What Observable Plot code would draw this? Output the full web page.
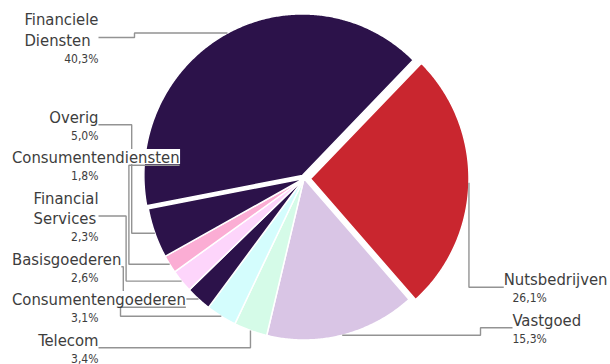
<!DOCTYPE html>
<html><head><meta charset="utf-8">
<script src="https://cdn.jsdelivr.net/npm/d3@7"></script>
<script src="https://cdn.jsdelivr.net/npm/@observablehq/plot@0.6"></script>
<style>html,body{margin:0;padding:0;background:#fff;} #chart{width:610px;height:364px;}</style>
</head><body><div id="chart"></div>
<script>
// ---- data ----
const categories = ["Financiele\nDiensten", "Nutsbedrijven", "Vastgoed", "Telecom", "Consumentengoederen", "Basisgoederen", "Financial\nServices", "Consumentendiensten", "Overig"];
const shares = [40.3, 26.1, 15.3, 3.4, 3.1, 2.6, 2.3, 1.8, 5.0];
const colors = ["#2c124a", "#c9262f", "#d9c5e5", "#d5fbe8", "#d4fdfd", "#2c124a", "#fdd5fb", "#fbadd4", "#2c124a"];

// ---- layout ----
const W = 610, H = 364;
const cx = 303.5, cy = 178, rx = 158.5, ry = 161.5, startDeg = -100.8;
const explode = {"Financiele\nDiensten": 3.5, "Nutsbedrijven": 6.5};
const font = '"DejaVu Sans Condensed", "DejaVu Sans", sans-serif';
const nameSize = 16.5, pctSize = 12, capAsc = 12.5, lineStep = 20.5, pctStep = 17;
const leftEdge = 98, leftClamp = 11.5, rightEdge = 512, rightClamp = 607;
const gap = 11, topMargin = 12;
const stackBottom = {left: 362, right: 342};
const pinTop = {left: true, right: false};
const textColor = "#3d3d3d", leaderColor = "#939393";

const rad = d => d * Math.PI / 180;
const data = categories.map((name, i) => ({name, share: shares[i]}));
const arcs = d3.pie().sort(null).value(d => d.share)
  .startAngle(rad(startDeg)).endAngle(rad(startDeg + 360))(data);

// slices
const slicePts = [];
arcs.forEach(a => {
  const name = a.data.name, mid = (a.startAngle + a.endAngle) / 2;
  const e = explode[name] || 0;
  const ox = e * Math.sin(mid), oy = -e * Math.cos(mid);
  slicePts.push({name, x: cx + ox, y: cy + oy});
  const n = Math.max(2, Math.ceil((a.endAngle - a.startAngle) / rad(0.5)));
  for (let i = 0; i <= n; i++) {
    const t = a.startAngle + (a.endAngle - a.startAngle) * i / n;
    slicePts.push({name, x: cx + ox + rx * Math.sin(t), y: cy + oy - ry * Math.cos(t)});
  }
});

// labels
const ctx = document.createElement("canvas").getContext("2d");
ctx.font = `${nameSize}px ${font}`;
const labels = arcs.map(a => {
  const name = a.data.name, mid = (a.startAngle + a.endAngle) / 2;
  const e = explode[name] || 0;
  const m = ((mid % (2 * Math.PI)) + 2 * Math.PI) % (2 * Math.PI);
  const lines = name.split("\n");
  const widths = lines.map(l => ctx.measureText(l).width);
  const w = Math.max(...widths);
  return {
    name, lines, widths, w, m,
    side: m > Math.PI ? "left" : "right",
    tx: cx + (e + 0) * Math.sin(mid) + rx * Math.sin(mid),
    ty: cy - e * Math.cos(mid) - ry * Math.cos(mid),
    height: capAsc + lineStep * (lines.length - 1) + pctStep,
    pct: a.data.share.toFixed(1).replace(".", ",") + "%"
  };
});

const leaderPts = [], boxes = [], nameTexts = [], pctLeft = [], pctRight = [];
for (const side of ["left", "right"]) {
  const list = labels.filter(L => L.side === side)
    .sort((a, b) => side === "left" ? a.m - b.m : b.m - a.m);
  let bottom = stackBottom[side], k = 0;
  list.forEach((L, i) => {
    let top = bottom - L.height;
    if (pinTop[side] && i === list.length - 1 && i > 0) top = Math.min(top, Math.max(topMargin, L.ty - L.height / 2));
    bottom = top - gap;
    const nameLeft = side === "left" ? Math.max(leftClamp, leftEdge - L.w) : Math.min(rightEdge, rightClamp - L.w);
    const startX = side === "left" ? Math.max(leftEdge, nameLeft + L.w) : Math.min(rightEdge, nameLeft);
    const ly = top + L.height / 2;
    let pts;
    if (ly > L.ty + 10) pts = [[startX, ly], [L.tx, ly], [L.tx, L.ty]];
    else {
      const ex = side === "left" ? 120 + 2.8 * (k++) : rightEdge - 32;
      pts = [[startX, ly], [ex, ly], [ex, L.ty], [L.tx, L.ty]];
    }
    pts.forEach(([x, y]) => leaderPts.push({name: L.name, x, y}));
    L.lines.forEach((line, j) => {
      const base = top + capAsc + lineStep * j;
      nameTexts.push({x: nameLeft, y: base, text: line});
      boxes.push({x1: nameLeft - 1, x2: nameLeft + L.widths[j] + 1, y1: base - capAsc - 1, y2: base + 1.5});
    });
    const pb = top + capAsc + lineStep * (L.lines.length - 1) + pctStep;
    (side === "left" ? pctLeft : pctRight).push({x: side === "left" ? leftEdge : rightEdge, y: pb, text: L.pct});
  });
}

const plot = Plot.plot({
  width: W, height: H, margin: 0,
  x: {domain: [0, W], range: [0, W], axis: null},
  y: {domain: [0, H], range: [0, H], axis: null},
  color: {domain: categories, range: colors},
  style: {background: "#fff", fontFamily: font},
  marks: [
    Plot.line(slicePts, {x: "x", y: "y", z: "name", fill: "name", stroke: "#fff", strokeWidth: 1.5, curve: "linear-closed"}),
    Plot.line(leaderPts, {x: "x", y: "y", z: "name", stroke: leaderColor, strokeWidth: 1.4, curve: "linear", strokeLinejoin: "miter", strokeLinecap: "butt"}),
    Plot.rect(boxes, {x1: "x1", x2: "x2", y1: "y1", y2: "y2", fill: "#fff"}),
    Plot.text(nameTexts, {x: "x", y: "y", text: "text", textAnchor: "start", lineAnchor: "bottom", fontSize: nameSize, fontFamily: font, fill: textColor}),
    Plot.text(pctLeft, {x: "x", y: "y", text: "text", textAnchor: "end", lineAnchor: "bottom", fontSize: pctSize, fontFamily: font, fill: textColor}),
    Plot.text(pctRight, {x: "x", y: "y", text: "text", textAnchor: "start", lineAnchor: "bottom", fontSize: pctSize, fontFamily: font, fill: textColor})
  ]
});
document.getElementById("chart").appendChild(plot);
</script>
</body></html>
